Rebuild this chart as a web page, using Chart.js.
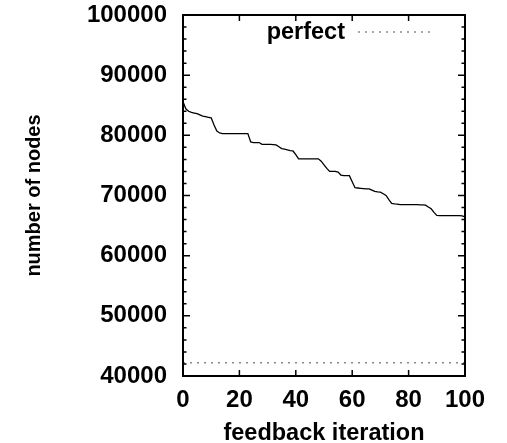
<!DOCTYPE html>
<html>
<head>
<meta charset="utf-8">
<script src="https://cdn.jsdelivr.net/npm/chart.js@4"></script>
<style>
  html, body { margin: 0; padding: 0; background: #fff; }
  #wrap { width: 507px; height: 443px; }
</style>
</head>
<body>
<div id="wrap"><canvas id="graph"></canvas></div>
<script>
// data
const iterations = [];
for (let i = 0; i <= 100; i++) iterations.push(i);

const nodes = [
  85600, 84400, 84000, 83800, 83700, 83600, 83400, 83200, 83100, 83000,
  82900, 81700, 80700, 80400, 80300, 80300, 80300, 80300, 80300, 80300,
  80300, 80300, 80300, 80300, 78900, 78800, 78800, 78800, 78500, 78500,
  78500, 78500, 78450, 78400, 78100, 77800, 77700, 77600, 77450, 77400,
  76800, 76100, 76100, 76100, 76100, 76100, 76100, 76100, 76100, 75700,
  75100, 74500, 74000, 74000, 74000, 73900, 73400, 73300, 73300, 73300,
  72300, 71300, 71250, 71200, 71150, 71100, 71100, 70900, 70700, 70600,
  70550, 70300, 70000, 69300, 68700, 68600, 68550, 68500, 68500, 68500,
  68500, 68500, 68500, 68500, 68450, 68450, 68400, 68100, 67800, 67200,
  66700, 66650, 66650, 66650, 66650, 66650, 66650, 66650, 66650, 66600,
  66450
];

const perfectNodes = 42200;
const perfectRange = [0, 100];

const xTicks = [0, 20, 40, 60, 80, 100];
const yTicks = [40000, 50000, 60000, 70000, 80000, 90000, 100000];
const yMinorStep = 2000;

const FONT = "'Liberation Sans', Arial, sans-serif";

const frame = {
  id: "frame",
  afterDatasetsDraw(chart) {
    const { ctx, chartArea: a, scales: { x, y } } = chart;
    ctx.save();
    ctx.strokeStyle = "#000";
    ctx.lineWidth = 1.5;
    ctx.beginPath();
    for (let v = yTicks[0]; v <= yTicks[yTicks.length - 1]; v += yMinorStep) {
      const py = y.getPixelForValue(v);
      const len = yTicks.includes(v) ? 7 : 3.5;
      ctx.moveTo(a.left, py); ctx.lineTo(a.left + len, py);
      ctx.moveTo(a.right, py); ctx.lineTo(a.right - len, py);
    }
    xTicks.forEach((v) => {
      const px = x.getPixelForValue(v);
      ctx.moveTo(px, a.bottom); ctx.lineTo(px, a.bottom - 6);
      ctx.moveTo(px, a.top); ctx.lineTo(px, a.top + 6);
    });
    ctx.stroke();
    ctx.lineWidth = 2;
    ctx.strokeRect(a.left, a.top, a.width, a.height);

    // key, top right
    const ds = chart.data.datasets[1];
    ctx.fillStyle = "#000";
    ctx.font = "bold 23.5px " + FONT;
    ctx.textAlign = "right";
    ctx.textBaseline = "middle";
    ctx.fillText(ds.label, 345, 33);
    ctx.strokeStyle = ds.borderColor;
    ctx.lineWidth = ds.borderWidth;
    ctx.setLineDash(ds.borderDash);
    ctx.beginPath();
    ctx.moveTo(358, 32); ctx.lineTo(433, 32);
    ctx.stroke();
    ctx.restore();
  }
};

const chart = new Chart(document.getElementById("graph"), {
  type: "line",
  data: {
    datasets: [
      {
        label: "nodes",
        data: iterations.map((it, i) => ({ x: it, y: nodes[i] })),
        borderColor: "#000",
        borderWidth: 1.3,
        pointRadius: 0,
        tension: 0,
        fill: false
      },
      {
        label: "perfect",
        data: perfectRange.map((it) => ({ x: it, y: perfectNodes })),
        borderColor: "#8a8a8a",
        borderWidth: 1.6,
        borderDash: [2, 5],
        pointRadius: 0,
        fill: false
      }
    ]
  },
  options: {
    responsive: true,
    maintainAspectRatio: false,
    animation: false,
    layout: { padding: { top: 15, right: 42, left: 0, bottom: 0 } },
    plugins: { legend: { display: false }, tooltip: { enabled: false } },
    scales: {
      x: {
        type: "linear",
        min: 0,
        max: 100,
        afterBuildTicks: (s) => { s.ticks = xTicks.map((v) => ({ value: v })); },
        afterFit: (s) => { s.height = 67; s.paddingLeft = 0; s.paddingRight = 0; },
        grid: { display: false, drawTicks: false },
        border: { display: false },
        ticks: {
          color: "#000",
          padding: 10,
          maxRotation: 0,
          font: { family: FONT, size: 24, weight: "bold" },
          callback: (v) => String(v)
        },
        title: {
          display: true,
          text: "feedback iteration",
          color: "#000",
          padding: { top: 0, bottom: -5 },
          font: { family: FONT, size: 23.5, weight: "bold" }
        }
      },
      y: {
        min: 40000,
        max: 100000,
        afterBuildTicks: (s) => { s.ticks = yTicks.map((v) => ({ value: v })); },
        afterFit: (s) => { s.width = 183; s.paddingTop = 0; s.paddingBottom = 0; },
        grid: { display: false, drawTicks: false },
        border: { display: false },
        ticks: {
          color: "#000",
          padding: 16,
          font: { family: FONT, size: 24, weight: "bold" },
          callback: (v) => String(v)
        },
        title: {
          display: true,
          text: "number of nodes",
          color: "#000",
          padding: { top: 22, bottom: 0 },
          font: { family: FONT, size: 20, weight: "bold" }
        }
      }
    }
  },
  plugins: [frame]
});
</script>
</body>
</html>
